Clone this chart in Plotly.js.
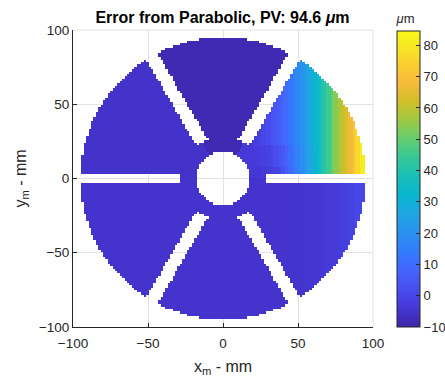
<!DOCTYPE html>
<html><head><meta charset="utf-8">
<script src="https://cdn.plot.ly/plotly-3.0.1.min.js"></script>
<style>html,body{margin:0;padding:0;background:#fff}#chart{width:445px;height:377px}</style>
</head><body><div id="chart"></div>
<script>
// ---- values ----
const zMin = -10, zMax = 84.6;
const colorbarTicks = [-10, 0, 10, 20, 30, 40, 50, 60, 70, 80];
const axisTicks = [-100, -50, 0, 50, 100];
// sample positions along x (mm) of the profiles below
const profileX = [0,2.5,5,7.5,10,12.5,15,17.5,20,22.5,25,27.5,30,32.5,35,37.5,40,42.5,45,47.5,50,52.5,55,57.5,60,62.5,65,67.5,70,72.5,75,77.5,80,82.5,85,87.5,90,92.5,95];
// surface error (um) in the 0-60 deg segment, rows for y near 0, 15 and 30+ mm
const upperRightRowY = [0, 15, 30];
const upperRightLow  = [-4,-4,-4,-4,-4,-4,-4,-4,-4,-4,-4,-3.5,-3,-2,-1,0.5,3,6,9,12,15.5,19,22,25.5,29,32.5,36,40.5,45,49.5,54,57.5,61,64,67,71,76,81,84.6];
const upperRightMid  = [-3.5,-3.5,-3.5,-3.5,-3.5,-3.5,-3.5,-3.5,-3.2,-2.8,-2.4,-1.8,-1,0,1.5,3,5,7.5,10.5,13,16,19.5,22.5,25.5,29,32.5,36,40.5,45,49.5,54,57.5,61,64,67,71,76,81,84.6];
const upperRightHigh = [-3,-3,-3,-3,-3,-3,-3,-3,-2.5,-2,-1,0,1.5,3,4.5,6,8,10,12.5,15,18,21,24,27,30,33,36.5,40.5,45,49.5,54,57.5,61,64,67,71,76,81,84.6];
// surface error (um) along x in the 300-360 deg segment
const lowerRightProfile = [-5,-5,-5,-5,-5,-5,-5,-5,-5,-5,-5,-5,-5,-5,-5,-5,-5,-5,-5,-5,-5,-4.9,-4.8,-4.6,-4.5,-4.2,-4,-3.8,-3.5,-3.2,-3,-2.5,-2,-1.5,-1,-0.5,0,0.5,1];
// base values of the other segments (60-120, 120-180, 180-240, 240-300 deg)
const segmentBase = [null, -8.5, -5.5, -5, -5, null];
// mirror geometry (mm)
const outerRadius = 95, holeRadius = 18, spokeStartRadius = 28;
const spokeAngles = [0, 60, 120, 180, 240, 300];
const spokeHalfWidth = [3.5, 4.3, 4.3, 3.5, 4.3, 4.3];
const gridStep = 1.6, gridCount = 120;

// ---- build the masked grid ----
const xs = [], ys = [];
for (let i = 0; i < gridCount; i++) {
  const c = (i - (gridCount - 1) / 2) * gridStep;
  xs.push(c); ys.push(c);
}
function lookup(prof, x) {
  let best = 0;
  for (let k = 1; k < profileX.length; k++) if (Math.abs(profileX[k] - x) < Math.abs(profileX[best] - x)) best = k;
  return prof[best];
}
function upperRightRow(y) {
  let best = 0;
  for (let k = 1; k < upperRightRowY.length; k++) if (Math.abs(upperRightRowY[k] - y) < Math.abs(upperRightRowY[best] - y)) best = k;
  return [upperRightLow, upperRightMid, upperRightHigh][best];
}
const z = ys.map(y => xs.map(x => {
  const r = Math.hypot(x, y);
  if (r > outerRadius || r < holeRadius) return null;
  for (let s = 0; s < spokeAngles.length; s++) {
    const t = spokeAngles[s] * Math.PI / 180;
    const along = x * Math.cos(t) + y * Math.sin(t);
    const perp = Math.abs(-x * Math.sin(t) + y * Math.cos(t));
    if (along > spokeStartRadius && perp < spokeHalfWidth[s]) return null;
  }
  let a = Math.atan2(y, x) * 180 / Math.PI; if (a < 0) a += 360;
  const seg = Math.min(5, Math.floor(a / 60));
  if (seg === 0) return lookup(upperRightRow(y), x);
  if (seg === 5) return lookup(lowerRightProfile, x);
  return segmentBase[seg];
}));

const parula = [
  [0/63,'rgb(62,38,168)'],[4/63,'rgb(69,55,213)'],[8/63,'rgb(72,77,240)'],[12/63,'rgb(69,99,253)'],
  [16/63,'rgb(50,124,252)'],[20/63,'rgb(43,145,239)'],[24/63,'rgb(32,165,227)'],[28/63,'rgb(8,181,208)'],
  [32/63,'rgb(25,191,182)'],[36/63,'rgb(55,200,151)'],[40/63,'rgb(100,205,111)'],[44/63,'rgb(157,201,67)'],
  [48/63,'rgb(209,191,39)'],[52/63,'rgb(248,186,61)'],[56/63,'rgb(252,207,48)'],[60/63,'rgb(245,233,36)'],
  [1,'rgb(249,251,21)']
];

const font = 'Liberation Sans, Arial, Helvetica, sans-serif';
const ink = '#262626';
const axisCommon = {
  range: [-100, 100], tickvals: axisTicks, ticks: 'inside', ticklen: 4, tickcolor: ink,
  showline: true, linecolor: ink, linewidth: 1, mirror: false,
  showgrid: true, gridcolor: '#e2e2e2', gridwidth: 1, zeroline: false, fixedrange: true,
  tickfont: {family: font, size: 13.5, color: ink}
};

Plotly.newPlot('chart', [{
  type: 'heatmap', x: xs, y: ys, z: z, zmin: zMin, zmax: zMax,
  colorscale: parula, hoverinfo: 'skip',
  colorbar: {
    thickness: 23, thicknessmode: 'pixels', len: 316, lenmode: 'pixels',
    x: 1.08, xanchor: 'left', y: 0, yanchor: 'bottom', xpad: 0, ypad: 0,
    tickvals: colorbarTicks, ticks: 'inside', ticklen: 4, tickcolor: ink,
    outlinecolor: ink, outlinewidth: 1,
    tickfont: {family: font, size: 13, color: ink},
    title: {text: '<i>μ</i>m', side: 'top', font: {family: font, size: 13, color: ink}}
  }
}], {
  width: 445, height: 377,
  margin: {l: 73, r: 72, t: 30, b: 50, autoexpand: false},
  paper_bgcolor: '#fff', plot_bgcolor: '#fff',
  title: {text: '<b>Error from Parabolic, PV: 94.6 <i>μ</i>m</b>', font: {family: font, size: 16, color: '#000'},
    x: 0.5, xref: 'container', xanchor: 'center', y: 1 - 17/377, yref: 'container', yanchor: 'middle'},
  xaxis: Object.assign({}, axisCommon, {ticklabelstandoff: 4, title: {text: 'x<sub>m</sub> - mm', font: {family: font, size: 16, color: ink}, standoff: 12}}),
  yaxis: Object.assign({}, axisCommon, {title: {text: 'y<sub>m</sub> - mm', font: {family: font, size: 16, color: ink}, standoff: 8}}),
  shapes: [
    {type: 'line', xref: 'paper', yref: 'paper', x0: 0, x1: 1, y0: 1, y1: 1, line: {color: '#e2e2e2', width: 1}, layer: 'below'},
    {type: 'line', xref: 'paper', yref: 'paper', x0: 1, x1: 1, y0: 0, y1: 1, line: {color: '#e2e2e2', width: 1}, layer: 'below'}
  ]
}, {displayModeBar: false, staticPlot: true});
</script>
</body></html>
